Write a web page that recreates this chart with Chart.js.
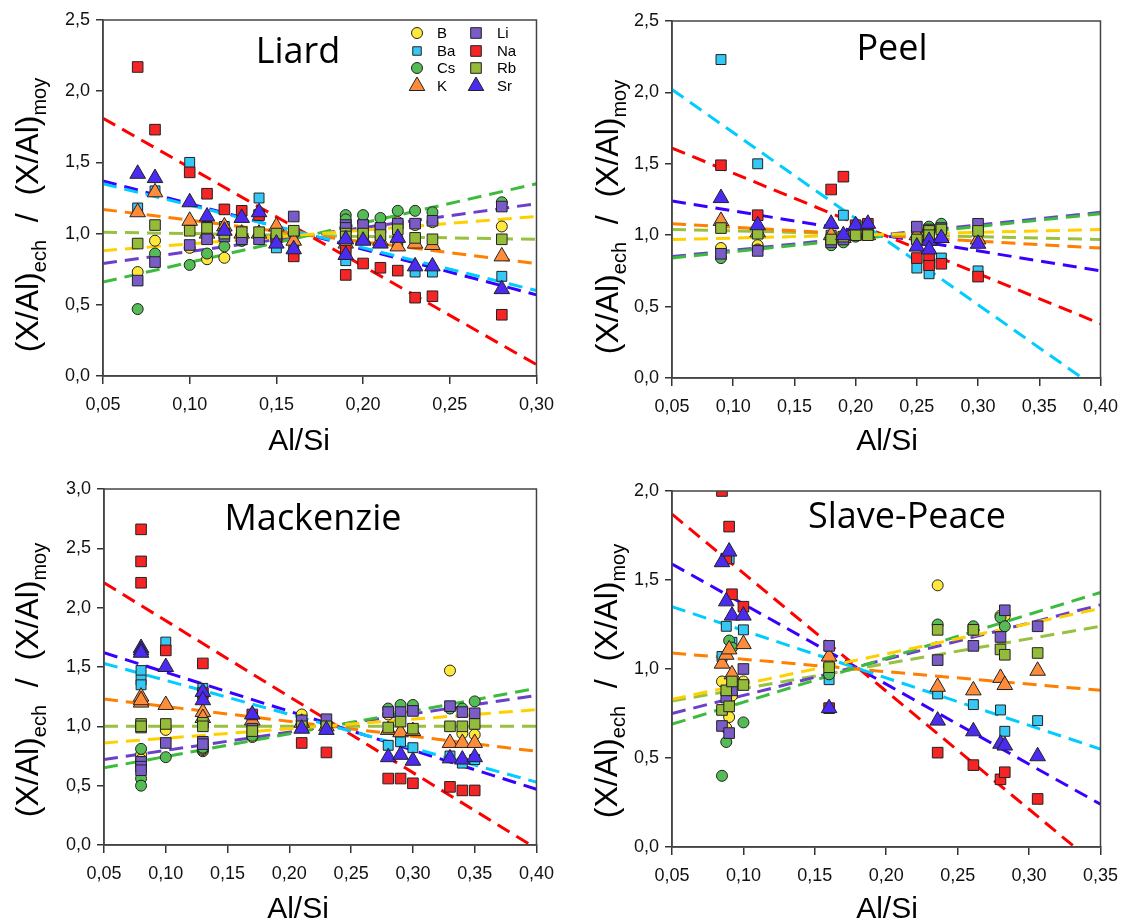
<!DOCTYPE html>
<html>
<head>
<meta charset="utf-8">
<script src="https://cdn.jsdelivr.net/npm/chart.js@4.4.0/dist/chart.umd.min.js"></script>
<style>
  html, body { margin: 0; padding: 0; background: #fff; }
  #wrap { position: relative; width: 1128px; height: 923px; }
  canvas { position: absolute; }
</style>
</head>
<body>
<div id="wrap">
  <canvas id="liard" width="564" height="462" style="left:0;top:0"></canvas>
  <canvas id="peel" width="564" height="462" style="left:564px;top:0"></canvas>
  <canvas id="mackenzie" width="564" height="461" style="left:0;top:462px"></canvas>
  <canvas id="slave" width="564" height="461" style="left:564px;top:462px"></canvas>
</div>
<script>
// elements, in legend order
const elements = ["B", "Ba", "Cs", "K", "Li", "Na", "Rb", "Sr"];

// ---- Liard ----
const liardX = [0.07, 0.08, 0.10, 0.11, 0.12, 0.13, 0.14, 0.15, 0.16, 0.19, 0.19, 0.20, 0.21, 0.22, 0.23, 0.24, 0.28];
const liardB  = [0.73, 0.95, 0.90, 0.82, 0.83, 0.95, 0.98, 0.95, 1.00, 1.08, 1.05, 1.08, 1.05, 1.08, 1.06, 1.08, 1.05];
const liardBa = [1.18, 1.30, 1.50, 1.05, 1.05, 1.00, 1.25, 0.90, 0.88, 0.81, 0.90, 0.96, 0.95, 0.95, 0.73, 0.73, 0.70];
const liardCs = [0.47, 0.86, 0.78, 0.86, 0.91, 0.95, 0.98, 0.97, 1.00, 1.13, 1.10, 1.13, 1.11, 1.16, 1.16, 1.15, 1.22];
const liardK  = [1.15, 1.29, 1.09, 1.00, 1.05, 1.00, 1.00, 1.05, 0.95, 0.96, 0.93, 0.96, 0.95, 0.91, 0.93, 0.92, 0.84];
const liardLi = [0.67, 0.80, 0.92, 0.96, 0.98, 0.96, 0.96, 0.97, 1.12, 1.06, 1.04, 1.06, 1.04, 1.07, 1.07, 1.09, 1.19];
const liardNa = [2.17, 1.73, 1.43, 1.28, 1.17, 1.16, 1.13, 0.95, 0.84, 0.71, 0.88, 0.79, 0.76, 0.74, 0.55, 0.56, 0.43];
const liardRb = [0.93, 1.06, 1.02, 1.04, 1.00, 1.01, 1.01, 1.00, 1.02, 1.00, 0.98, 1.00, 0.99, 1.03, 0.97, 0.96, 0.96];
const liardSr = [1.42, 1.39, 1.22, 1.12, 1.02, 1.11, 1.15, 0.93, 0.89, 0.96, 0.85, 0.95, 0.93, 0.97, 0.77, 0.77, 0.61];
// regression lines: value at the left and right ends of the x axis
const liardFitX = [0.05, 0.30];
const liardFit = { B: [0.88, 1.12], Ba: [1.35, 0.60], Cs: [0.66, 1.35], K: [1.17, 0.79],
                   Li: [0.79, 1.21], Na: [1.81, 0.08], Rb: [1.01, 0.96], Sr: [1.37, 0.57] };
const liardXTicks = [0.05, 0.10, 0.15, 0.20, 0.25, 0.30];
const liardYTicks = [0, 0.5, 1.0, 1.5, 2.0, 2.5];

// ---- Peel ----
const peelX = [0.09, 0.12, 0.18, 0.19, 0.20, 0.21, 0.25, 0.26, 0.26, 0.27, 0.30];
const peelB  = [0.91, 0.93, 0.96, 0.98, 1.00, 1.01, 1.03, 1.04, 1.02, 1.05, 1.04];
const peelBa = [2.23, 1.50, 1.00, 1.14, 1.02, 1.00, 0.77, 0.73, 0.80, 0.84, 0.75];
const peelCs = [0.84, 0.90, 0.93, 0.95, 0.99, 1.02, 1.03, 1.06, 1.02, 1.08, 1.04];
const peelK  = [1.10, 1.02, 1.00, 0.98, 1.00, 1.00, 1.00, 0.98, 0.97, 0.98, 0.97];
const peelLi = [0.87, 0.89, 0.95, 0.97, 1.00, 1.02, 1.06, 1.04, 1.03, 1.05, 1.08];
const peelNa = [1.49, 1.14, 1.32, 1.41, 1.07, 1.08, 0.84, 0.79, 0.86, 0.80, 0.71];
const peelRb = [1.05, 1.01, 0.97, 0.99, 1.00, 1.00, 0.97, 1.03, 1.00, 1.04, 1.03];
const peelSr = [1.26, 1.07, 1.08, 1.00, 1.07, 1.08, 0.92, 0.96, 0.90, 0.98, 0.94];
const peelFitX = [0.05, 0.40];
const peelFit = { B: [0.97, 1.04], Ba: [2.02, -0.09], Cs: [0.84, 1.15], K: [1.08, 0.91],
                  Li: [0.85, 1.16], Na: [1.61, 0.38], Rb: [1.04, 0.97], Sr: [1.24, 0.75] };
const peelXTicks = [0.05, 0.10, 0.15, 0.20, 0.25, 0.30, 0.35, 0.40];
const peelYTicks = [0, 0.5, 1.0, 1.5, 2.0, 2.5];

// ---- Mackenzie ----
const mackX = [0.08, 0.08, 0.08, 0.10, 0.13, 0.13, 0.17, 0.21, 0.23, 0.28, 0.29, 0.30, 0.33, 0.34, 0.35];
const mackB  = [0.76, 0.72, 0.70, 0.97, 0.79, 0.80, 0.91, 1.10, 1.02, 1.10, 1.12, 1.15, 1.47, 0.94, 0.93];
const mackBa = [1.47, 1.39, 1.35, 1.71, 1.32, 1.25, 1.05, 1.00, 1.00, 0.84, 0.87, 0.82, 0.75, 0.69, 0.72];
const mackCs = [0.81, 0.56, 0.50, 0.74, 0.81, 0.82, 0.92, 1.05, 1.03, 1.15, 1.18, 1.18, 1.15, 1.15, 1.21];
const mackK  = [1.25, 1.20, 1.22, 1.18, 1.12, 1.07, 1.05, 1.03, 1.00, 0.97, 0.95, 0.96, 0.86, 0.86, 0.86];
const mackLi = [0.70, 0.66, 0.63, 0.86, 0.87, 0.85, 0.98, 1.05, 1.06, 1.12, 1.12, 1.13, 1.17, 1.12, 1.11];
const mackNa = [2.66, 2.39, 2.21, 1.64, 1.53, 1.28, 1.10, 0.86, 0.78, 0.56, 0.56, 0.52, 0.49, 0.46, 0.46];
const mackRb = [0.99, 1.02, 1.00, 1.02, 1.03, 1.00, 0.96, 1.00, 1.00, 0.99, 1.04, 0.98, 1.00, 1.00, 1.02];
const mackSr = [1.66, 1.64, 1.62, 1.50, 1.29, 1.22, 1.10, 0.98, 0.97, 0.74, 0.76, 0.71, 0.73, 0.72, 0.74];
const mackFitX = [0.05, 0.40];
const mackFit = { B: [0.86, 1.14], Ba: [1.53, 0.53], Cs: [0.65, 1.32], K: [1.23, 0.79],
                  Li: [0.72, 1.26], Na: [2.21, -0.03], Rb: [1.00, 1.00], Sr: [1.62, 0.47] };
const mackXTicks = [0.05, 0.10, 0.15, 0.20, 0.25, 0.30, 0.35, 0.40];
const mackYTicks = [0, 0.5, 1.0, 1.5, 2.0, 2.5, 3.0];

// ---- Slave-Peace ----
const slaveX = [0.085, 0.088, 0.090, 0.092, 0.100, 0.160, 0.236, 0.261, 0.280, 0.283, 0.306];
const slaveB  = [0.93, 0.67, 0.73, 0.85, 0.93, 1.02, 1.47, 1.22, 1.30, 1.30, null];
const slaveBa = [1.07, 1.24, 1.62, 1.15, 1.22, 0.94, 0.86, 0.80, 0.77, 0.65, 0.71];
const slaveCs = [0.40, 0.59, 1.16, 1.12, 0.70, 0.97, 1.25, 1.24, 1.29, 1.24, null];
const slaveK  = [1.03, 1.08, 1.11, 0.97, 1.14, 1.07, 0.90, 0.88, 0.95, 0.91, 0.99];
const slaveLi = [0.68, 0.84, 0.64, 0.88, 1.00, 1.13, 1.05, 1.13, 1.18, 1.33, 1.24];
const slaveNa = [2.00, 1.62, 1.80, 1.42, 1.35, 0.78, 0.53, 0.46, 0.38, 0.42, 0.27];
const slaveRb = [0.77, 0.88, 0.79, 0.93, 0.91, 1.01, 1.22, 1.22, 1.11, 1.08, 1.09];
const slaveSr = [1.60, 1.38, 1.66, 1.30, 1.30, 0.78, 0.71, 0.65, 0.58, 0.57, 0.51];
const slaveFitX = [0.05, 0.35];
const slaveFit = { B: [0.83, 1.34], Ba: [1.35, 0.55], Cs: [0.69, 1.43], K: [1.09, 0.88],
                   Li: [0.75, 1.36], Na: [1.87, -0.12], Rb: [0.82, 1.24], Sr: [1.59, 0.24] };
const slaveXTicks = [0.05, 0.10, 0.15, 0.20, 0.25, 0.30, 0.35];
const slaveYTicks = [0, 0.5, 1.0, 1.5, 2.0];

// marker styles
const fill = { B: "#ffe83a", Ba: "#35c8f5", Cs: "#55bb55", K: "#ff8c3a",
               Li: "#7a5cc8", Na: "#f52525", Rb: "#95bb3a", Sr: "#4b2bef" };
const lineColor = { B: "#ffd000", Ba: "#00ccff", Cs: "#3dbb3d", K: "#ff7f00",
                    Li: "#6a3fcc", Na: "#ff0000", Rb: "#99c040", Sr: "#3a00ff" };
const shape = { B: "circle", Ba: "rect", Cs: "circle", K: "triangle",
                Li: "rect", Na: "rect", Rb: "rect", Sr: "triangle" };
const radius = { B: 5.5, Ba: 7, Cs: 5.5, K: 9, Li: 7.5, Na: 7.5, Rb: 7.5, Sr: 9 };
const drawOrder = { B: 8, Ba: 7, Cs: 6, K: 5, Li: 4, Na: 3, Rb: 2, Sr: 1 };

const tickFont = { family: "'Liberation Sans', Arial, sans-serif", size: 18 };
const fmt = (v, d) => v.toFixed(d).replace(".", ",");

const decorations = {
  id: "decorations",
  afterDraw(chart, args, o) {
    const ctx = chart.ctx;
    const a = chart.chartArea;
    ctx.save();
    // frame
    ctx.strokeStyle = "#444";
    ctx.lineWidth = 1.5;
    ctx.strokeRect(a.left, a.top, a.right - a.left, a.bottom - a.top);
    // panel name
    ctx.fillStyle = "#000";
    ctx.font = "36px 'Open Sans', sans-serif";
    ctx.textAlign = "center";
    ctx.textBaseline = "alphabetic";
    ctx.fillText(o.title, o.titleX, o.titleY);
    // x title
    ctx.font = "30px 'Liberation Sans', Arial, sans-serif";
    ctx.fillText("Al/Si", o.xTitleX, o.xTitleY);
    // y title with subscripts
    const parts = [["(X/Al)", 32, 0], ["ech", 20, 8], ["  /  ", 32, 0], ["(X/Al)", 32, 0], ["moy", 20, 8]];
    let total = 0;
    parts.forEach(p => { ctx.font = p[1] + "px 'Liberation Sans', Arial, sans-serif"; total += ctx.measureText(p[0]).width; });
    ctx.translate(o.yTitleX, o.yTitleY);
    ctx.rotate(-Math.PI / 2);
    ctx.textAlign = "left";
    let x = -total / 2;
    parts.forEach(p => {
      ctx.font = p[1] + "px 'Liberation Sans', Arial, sans-serif";
      ctx.fillText(p[0], x, p[2]);
      x += ctx.measureText(p[0]).width;
    });
    ctx.restore();

    if (o.legend) {
      ctx.save();
      const rows = [33, 51, 68, 86];
      const cols = [[417, 437], [476, 497]];
      elements.forEach((el, i) => {
        const c = cols[Math.floor(i / 4)];
        const y = rows[i % 4];
        ctx.fillStyle = fill[el];
        ctx.strokeStyle = "#222";
        ctx.lineWidth = 1;
        Chart.helpers.drawPoint(ctx, { pointStyle: shape[el], radius: el === "Ba" ? 6 : radius[el], borderWidth: 1, rotation: 0 }, c[0], y);
        ctx.fillStyle = "#000";
        ctx.font = "15px 'Liberation Sans', Arial, sans-serif";
        ctx.textAlign = "left";
        ctx.textBaseline = "middle";
        ctx.fillText(el, c[1], y + 1);
      });
      ctx.restore();
    }
  }
};

function makePanel(id, xs, series, fitX, fit, xTicks, yTicks, area, deco) {
  const canvas = document.getElementById(id);
  const W = canvas.width, H = canvas.height;
  const datasets = [];
  elements.forEach(el => {
    datasets.push({
      label: el,
      data: xs.map((x, j) => ({ x: x, y: series[el][j] })).filter(p => p.y !== null),
      showLine: false,
      pointStyle: shape[el],
      pointRadius: radius[el],
      backgroundColor: fill[el],
      borderColor: "#222",
      borderWidth: 1,
      order: drawOrder[el]
    });
  });
  elements.forEach(el => {
    datasets.push({
      label: el + " fit",
      data: [{ x: fitX[0], y: fit[el][0] }, { x: fitX[1], y: fit[el][1] }],
      showLine: true,
      pointRadius: 0,
      borderColor: lineColor[el],
      borderWidth: 3,
      borderDash: [14, 8],
      clip: 0,
      order: 20
    });
  });

  new Chart(canvas, {
    type: "scatter",
    data: { datasets },
    options: {
      responsive: false,
      animation: false,
      layout: { padding: { left: 0, top: area.t, right: W - area.r, bottom: 0 } },
      plugins: { legend: { display: false }, tooltip: { enabled: false }, decorations: deco },
      scales: {
        x: {
          type: "linear",
          min: xTicks[0],
          max: xTicks[xTicks.length - 1],
          afterBuildTicks: s => { s.ticks = xTicks.map(v => ({ value: v })); },
          afterFit: s => { s.height = H - area.b; },
          ticks: { callback: v => fmt(v, 2), font: tickFont, color: "#111", padding: 10, maxRotation: 0, autoSkip: false },
          grid: { drawOnChartArea: false, tickLength: 8, color: "#333", lineWidth: 1.5 },
          border: { color: "#444", width: 1.5 }
        },
        y: {
          type: "linear",
          min: yTicks[0],
          max: yTicks[yTicks.length - 1],
          afterBuildTicks: s => { s.ticks = yTicks.map(v => ({ value: v })); },
          afterFit: s => { s.width = area.l; },
          ticks: { callback: v => fmt(v, 1), font: tickFont, color: "#111", padding: 6 },
          grid: { drawOnChartArea: false, tickLength: 7, color: "#333", lineWidth: 1.5 },
          border: { color: "#444", width: 1.5 }
        }
      }
    },
    plugins: [decorations]
  });
}

makePanel("liard", liardX,
  { B: liardB, Ba: liardBa, Cs: liardCs, K: liardK, Li: liardLi, Na: liardNa, Rb: liardRb, Sr: liardSr },
  liardFitX, liardFit, liardXTicks, liardYTicks,
  { l: 103, t: 20, r: 537, b: 376 },
  { title: "Liard", titleX: 298, titleY: 63, xTitleX: 299, xTitleY: 450, yTitleX: 38, yTitleY: 215, legend: true });

makePanel("peel", peelX,
  { B: peelB, Ba: peelBa, Cs: peelCs, K: peelK, Li: peelLi, Na: peelNa, Rb: peelRb, Sr: peelSr },
  peelFitX, peelFit, peelXTicks, peelYTicks,
  { l: 108, t: 21, r: 541, b: 378 },
  { title: "Peel", titleX: 328, titleY: 60, xTitleX: 323, xTitleY: 450, yTitleX: 54, yTitleY: 217, legend: false });

makePanel("mackenzie", mackX,
  { B: mackB, Ba: mackBa, Cs: mackCs, K: mackK, Li: mackLi, Na: mackNa, Rb: mackRb, Sr: mackSr },
  mackFitX, mackFit, mackXTicks, mackYTicks,
  { l: 104, t: 27, r: 537, b: 383 },
  { title: "Mackenzie", titleX: 313, titleY: 68, xTitleX: 298, xTitleY: 456, yTitleX: 38, yTitleY: 218, legend: false });

makePanel("slave", slaveX,
  { B: slaveB, Ba: slaveBa, Cs: slaveCs, K: slaveK, Li: slaveLi, Na: slaveNa, Rb: slaveRb, Sr: slaveSr },
  slaveFitX, slaveFit, slaveXTicks, slaveYTicks,
  { l: 108, t: 29, r: 540, b: 385 },
  { title: "Slave-Peace", titleX: 343, titleY: 66, xTitleX: 323, xTitleY: 456, yTitleX: 53, yTitleY: 219, legend: false });
</script>
</body>
</html>
